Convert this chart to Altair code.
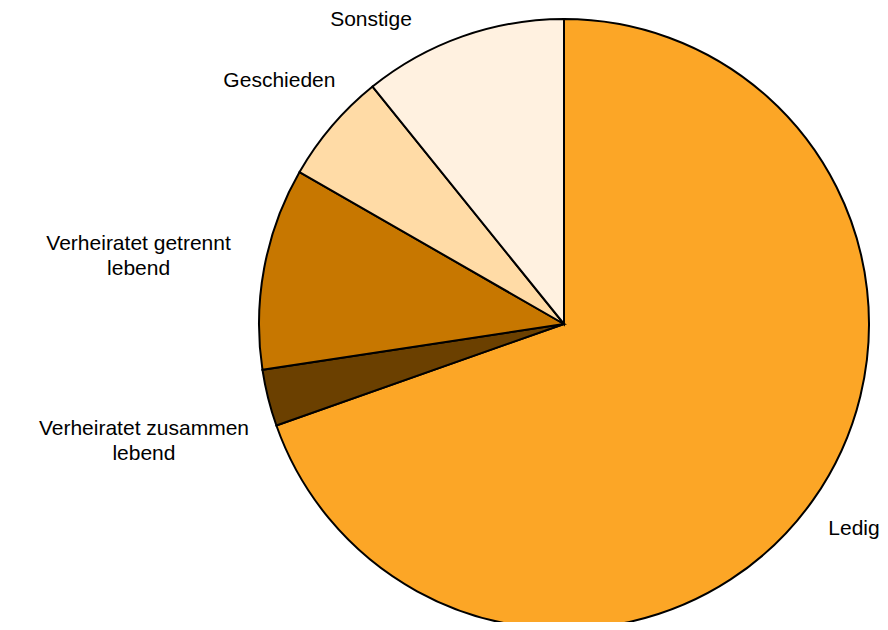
import math
import altair as alt
import pandas as pd

# --- data ---
categories = ["Ledig", "Verheiratet zusammen lebend", "Verheiratet getrennt lebend", "Geschieden", "Sonstige"]
label_texts = ["Ledig", "Verheiratet zusammen\nlebend", "Verheiratet getrennt\nlebend", "Geschieden", "Sonstige"]
shares = [69.6, 3.0, 10.7, 5.9, 10.8]
colors = ["#FCA626", "#6B4000", "#C77700", "#FFDBA6", "#FFF1E0"]

# --- layout / style ---
R = 305
CX, CY = 556, 316
FONT_SIZE = 21
LINE_H = 25
CHAR_W = 10.3
GAP = 22

total = sum(shares)


def label_radius(a, w, h):
    return R + GAP + w / 2 * abs(math.sin(a)) + h / 2 * abs(math.cos(a))


rows = []
cum = 0.0
for i, (cat, lab, s) in enumerate(zip(categories, label_texts, shares)):
    start, end = cum, cum + s
    cum = end
    a = (start + end) / 2 / total * 2 * math.pi
    lines = lab.split("\n")
    w = max(len(x) for x in lines) * CHAR_W
    h = len(lines) * LINE_H
    r = label_radius(a, w, h)
    # keep label inside the top edge: rotate it away from the vertical (as Excel does)
    for _ in range(5):
        if r * math.cos(a) > CY - h / 2:
            ang = math.acos((CY - h / 2) / r)
            a = 2 * math.pi - ang if a > math.pi else ang
            r = label_radius(a, w, h)
    rows.append(dict(category=cat, label=lab, share=s, start=start, end=end,
                     label_pos=a / (2 * math.pi) * total, label_r=r))

df = pd.DataFrame(rows)

theta_scale = alt.Scale(domain=[0, total], range=[0, 2 * math.pi])

arcs = alt.Chart(df).mark_arc(outerRadius=R, stroke="black", strokeWidth=2).encode(
    theta=alt.Theta("start:Q", scale=theta_scale, stack=None),
    theta2="end:Q",
    color=alt.Color("category:N", scale=alt.Scale(domain=categories, range=colors), legend=None),
    x=alt.value(CX),
    y=alt.value(CY),
)

labels = alt.Chart(df).mark_text(
    font="Liberation Sans", fontSize=FONT_SIZE, lineBreak="\n", lineHeight=LINE_H,
    align="center", baseline="middle", color="black"
).encode(
    theta=alt.Theta("label_pos:Q", scale=theta_scale, stack=None),
    radius=alt.Radius("label_r:Q", scale=None),
    text="label:N",
    x=alt.value(CX),
    y=alt.value(CY),
)

chart = alt.layer(arcs, labels).properties(
    width=872, height=614, padding=0, autosize=alt.AutoSizeParams(type="none"), background="white"
).configure_view(stroke=None)

chart.save("out.html", embed_options={"renderer": "svg", "actions": False})
